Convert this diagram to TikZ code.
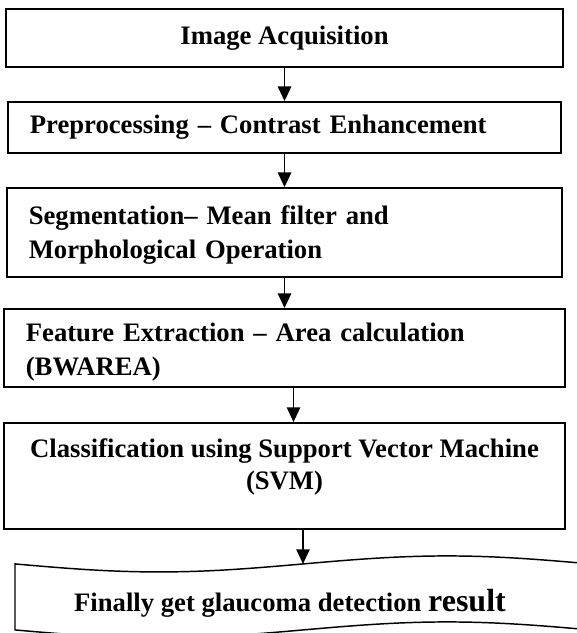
\documentclass[tikz,border=0pt]{standalone}
\usepackage{fontspec}
\setmainfont{Liberation Serif}
\usepackage{tikz}
\usetikzlibrary{arrows.meta,positioning}
\tikzstyle{block} = [rectangle, draw, line width=1.3pt, inner xsep=16.5pt, inner ysep=2pt, font=\bfseries\fontsize{20}{25}\selectfont]
\tikzstyle{arrow} = [draw, line width=1.3pt, -{Triangle[length=11pt,width=10pt]}]
\tikzstyle{tape} = [draw, line width=1.1pt]

\begin{document}
\begin{tikzpicture}

  \useasboundingbox (0,0) rectangle (432.75pt,-474.75pt);

  \node[block, minimum width=418pt, minimum height=43.5pt] (acq) at (213.4pt,-28.5pt) {Image Acquisition};
  \node[block, below of=acq, node distance=67.1pt, minimum height=38.25pt, text width=382pt, align=left] (pre) {Preprocessing -- Contrast Enhancement};
  \node[block, below of=pre, node distance=78.75pt, minimum height=66.75pt, text width=383.6pt, align=left] (seg) {\rule{0pt}{18pt}Segmentation-- Mean filter and\\Morphological Operation};
  \node[block, below of=seg, node distance=86.6pt, minimum height=58.5pt, text width=388pt, align=left] (feat) {\rule{0pt}{20pt}Feature Extraction -- Area calculation\\(BWAREA)};
  \node[block, below of=feat, node distance=96pt, minimum width=421pt, minimum height=79.5pt, align=center, font=\bfseries\fontsize{20}{24}\selectfont] (svm) {Classification using Support Vector Machine\\(SVM)\rule[-18pt]{0pt}{18pt}};
  \node[below of=svm, node distance=95.25pt, xshift=4.1pt, font=\bfseries\fontsize{20}{25}\selectfont] (result) {Finally get glaucoma detection {\fontsize{24}{28}\selectfont result}};
  \coordinate (tapetop) at ([shift={(9.75pt,29.25pt)}]result.center);

  \path[arrow] (acq) -- (pre);
  \path[arrow] (pre) -- (seg);
  \path[arrow] (seg) -- (feat);
  \path[arrow] ([xshift=6.75pt]feat.south) -- ([xshift=6.75pt]svm.north);
  \path[arrow] (svm.south -| tapetop) -- (tapetop);

  % punched tape outline round the result
  \draw[tape] ([xshift=-216pt]tapetop) sin ++(108pt,-6pt) cos ++(108pt,6pt) sin ++(108pt,6pt) cos ++(108pt,-6pt)
    -- ++(0,-49.5pt) sin ++(-108pt,6pt) cos ++(-108pt,-6pt) sin ++(-108pt,-6pt) cos ++(-108pt,6pt) -- cycle;

\end{tikzpicture}
\end{document}
